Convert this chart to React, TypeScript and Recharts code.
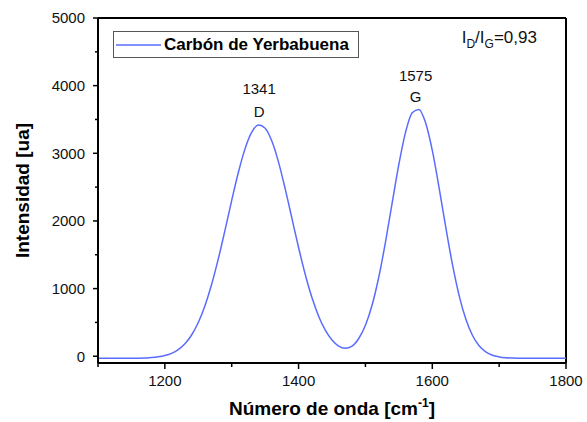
import React from 'react';
import {
  LineChart, Line, XAxis, YAxis, ReferenceLine, ReferenceDot, Legend,
} from 'recharts';

const FONT = '"Liberation Sans", Arial, sans-serif';
const BLUE = '#5a6cff';

const wavenumber = [
  1100, 1110, 1120, 1130, 1140, 1150, 1160, 1170, 1180, 1190,
  1200, 1210, 1220, 1230, 1240, 1250, 1260, 1270, 1280, 1290,
  1300, 1310, 1320, 1330, 1340, 1350, 1360, 1370, 1380, 1390,
  1400, 1410, 1420, 1430, 1440, 1450, 1460, 1470, 1480, 1490,
  1500, 1510, 1520, 1530, 1540, 1550, 1560, 1570, 1580, 1590,
  1600, 1610, 1620, 1630, 1640, 1650, 1660, 1670, 1680, 1690,
  1700, 1710, 1720, 1730, 1740, 1750, 1760, 1770, 1780, 1790,
  1800,
];
const intensity = [
  -30, -30, -30, -30, -30, -29, -28, -25, -20, -9,
  10, 43, 98, 184, 314, 499, 748, 1064, 1442, 1865,
  2304, 2720, 3069, 3312, 3417, 3371, 3181, 2870, 2475, 2041,
  1607, 1208, 867, 592, 387, 240, 150, 118, 150, 262,
  457, 757, 1171, 1688, 2267, 2837, 3309, 3598, 3649, 3450,
  3042, 2501, 1915, 1365, 904, 553, 310, 155, 64, 14,
  -10, -22, -27, -29, -30, -30, -30, -30, -30, -30,
  -30,
];

const xTicks = [1100, 1200, 1300, 1400, 1500, 1600, 1700, 1800];
const xMajorTicks = [1200, 1400, 1600, 1800];
const yTicks = [0, 500, 1000, 1500, 2000, 2500, 3000, 3500, 4000, 4500, 5000];
const yMajorTicks = [0, 1000, 2000, 3000, 4000, 5000];

const seriesName = 'Carbón de Yerbabuena';
const peakLabels = [
  { x: 1341, yNum: 3872, yLetter: 3537, num: '1341', letter: 'D' },
  { x: 1575, yNum: 4073, yLetter: 3754, num: '1575', letter: 'G' },
];

const data = wavenumber.map((w, i) => ({ w, v: intensity[i] }));

const TICK_SIZE = 6;
const TICK_MARGIN = 6;

const XTick = (props: any) => {
  const { x, y, payload } = props;
  const v = payload.value;
  const major = xMajorTicks.includes(v);
  const axisY = y - TICK_SIZE - TICK_MARGIN;
  return (
    <g>
      <line x1={x} y1={axisY} x2={x} y2={axisY + (major ? 6 : 4)} stroke="#000" strokeWidth={1.5} />
      {major && (
        <text x={x} y={y} dy="0.71em" textAnchor="middle" fontFamily={FONT} fontSize={15} fill="#111">{v}</text>
      )}
    </g>
  );
};

const YTick = (props: any) => {
  const { x, y, payload } = props;
  const v = payload.value;
  const major = yMajorTicks.includes(v);
  const axisX = x + TICK_SIZE + TICK_MARGIN + 1;
  return (
    <g>
      <line x1={axisX} y1={y} x2={axisX - (major ? 6 : 4)} y2={y} stroke="#000" strokeWidth={1.5} />
      {major && (
        <text x={x - 1} y={y} dy="0.355em" textAnchor="end" fontFamily={FONT} fontSize={15} fill="#111">{v}</text>
      )}
    </g>
  );
};

const XLabel = (props: any) => {
  const vb = props.viewBox || {};
  const cx = vb.x + vb.width / 2;
  return (
    <text x={cx} y={vb.y + 52} textAnchor="middle" fontFamily={FONT} fontWeight="bold" fontSize={19} fill="#000">
      Número de onda [cm
      <tspan fontSize={12} dy={-8}>-1</tspan>
      <tspan dy={8}>]</tspan>
    </text>
  );
};

const YLabel = (props: any) => {
  const vb = props.viewBox || {};
  const cy = vb.y + vb.height / 2;
  const x = 29;
  return (
    <text x={x} y={cy} transform={`rotate(-90 ${x} ${cy})`} textAnchor="middle" fontFamily={FONT} fontWeight="bold" fontSize={19} fill="#000">
      Intensidad [ua]
    </text>
  );
};

const LegendBox = () => (
  <div style={{
    width: 244, height: 25, border: '1.5px solid #555', background: '#fff',
    display: 'flex', alignItems: 'center', boxSizing: 'content-box',
  }}>
    <svg width={50} height={25} style={{ display: 'block' }}>
      <line x1={2} y1={13} x2={47} y2={13} stroke={BLUE} strokeWidth={1.5} />
    </svg>
    <span style={{ fontFamily: FONT, fontWeight: 'bold', fontSize: 17, color: '#000', lineHeight: '25px' }}>{seriesName}</span>
  </div>
);

export default function App() {
  return (
    <div style={{ position: 'absolute', left: 0, top: 0 }}>
      <LineChart width={587} height={422} data={data} margin={{ top: 18, right: 21, left: 0, bottom: 0 }}>
        <XAxis dataKey="w" type="number" domain={[1100, 1800]} ticks={xTicks} height={59} interval={0}
          axisLine={{ stroke: '#000', strokeWidth: 2 }} tickLine={false}
          tickSize={TICK_SIZE} tickMargin={TICK_MARGIN}
          tick={<XTick />}
          label={<XLabel />} />
        <YAxis type="number" domain={[-100, 5000]} ticks={yTicks} width={98} interval={0}
          axisLine={{ stroke: '#000', strokeWidth: 2 }} tickLine={false}
          tickSize={TICK_SIZE} tickMargin={TICK_MARGIN}
          tick={<YTick />}
          label={<YLabel />} />
        <ReferenceLine y={5000} stroke="#000" strokeWidth={2} />
        <ReferenceLine x={1800} stroke="#000" strokeWidth={2} />
        <Legend verticalAlign="middle" align="center" layout="horizontal"
          wrapperStyle={{ position: 'absolute', left: 113, top: 31, width: 'auto', height: 'auto' }}
          content={<LegendBox />} />
        <Line dataKey="v" name={seriesName} type="monotone" stroke={BLUE} strokeWidth={1.5}
          dot={false} activeDot={false} isAnimationActive={false} />
        {peakLabels.map((p) => (
          <ReferenceDot key={p.num} x={p.x} y={p.yNum} r={1}
            shape={(s: any) => (
              <text x={s.cx} y={s.cy} textAnchor="middle" fontFamily={FONT} fontSize={15} fill="#111">{p.num}</text>
            )} />
        ))}
        {peakLabels.map((p) => (
          <ReferenceDot key={p.letter} x={p.x} y={p.yLetter} r={1}
            shape={(s: any) => (
              <text x={s.cx} y={s.cy} textAnchor="middle" fontFamily={FONT} fontSize={15} fill="#111">{p.letter}</text>
            )} />
        ))}
        <ReferenceDot x={1644} y={4630} r={1}
          shape={(s: any) => (
            <text x={s.cx} y={s.cy} textAnchor="start" fontFamily={FONT} fontSize={17} fill="#111">
              I<tspan fontSize={12} dy={5}>D</tspan>
              <tspan dy={-5}>/I</tspan>
              <tspan fontSize={12} dy={5}>G</tspan>
              <tspan dy={-5}>=0,93</tspan>
            </text>
          )} />
      </LineChart>
    </div>
  );
}
